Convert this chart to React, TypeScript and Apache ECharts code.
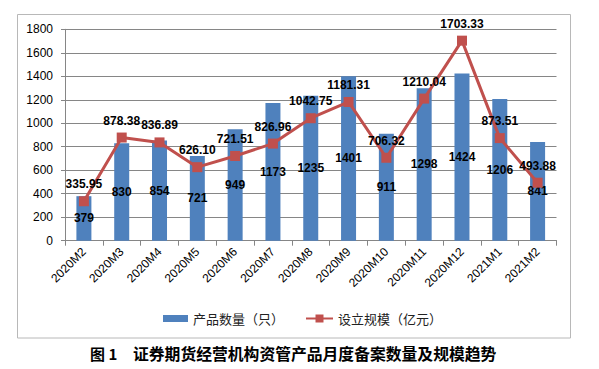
import React, { useEffect, useRef } from "react";
import * as echarts from "echarts";

const categories = [
  "2020M2", "2020M3", "2020M4", "2020M5", "2020M6", "2020M7", "2020M8",
  "2020M9", "2020M10", "2020M11", "2020M12", "2021M1", "2021M2",
];
const productCounts = [379, 830, 854, 721, 949, 1173, 1235, 1401, 911, 1298, 1424, 1206, 841];
const scaleValues = [335.95, 878.38, 836.89, 626.1, 721.51, 826.96, 1042.75, 1181.31, 706.32, 1210.04, 1703.33, 873.51, 493.88];
const barName = "产品数量（只）";
const lineName = "设立规模（亿元）";
const figureNo = "图 1";
const figureTitle = "证券期货经营机构资管产品月度备案数量及规模趋势";

export default function App() {
  const ref = useRef<HTMLDivElement>(null);
  useEffect(() => {
    if (!ref.current) return;
    const chart = echarts.init(ref.current, null, { renderer: "svg" });
    const font = "'Liberation Sans', Arial, sans-serif";
    const cjk = "'Noto Sans CJK SC', sans-serif";
    chart.setOption({
      animation: false,
      backgroundColor: "#ffffff",
      grid: { left: 65, right: 42.5, top: 29.3, bottom: 128.3, containLabel: false },
      xAxis: {
        type: "category",
        data: categories,
        boundaryGap: true,
        axisLine: { show: true, lineStyle: { color: "#868686", width: 1 } },
        axisTick: { show: true, alignWithLabel: false, length: 5, lineStyle: { color: "#868686" } },
        axisLabel: {
          interval: 0,
          rotate: 45,
          margin: 9,
          fontSize: 12,
          color: "#000",
          fontFamily: font,
        },
      },
      yAxis: {
        type: "value",
        min: 0,
        max: 1800,
        interval: 200,
        axisLine: { show: true, lineStyle: { color: "#868686", width: 1 } },
        axisTick: { show: true, length: 4, lineStyle: { color: "#868686" } },
        splitLine: { show: true, lineStyle: { color: "#868686", width: 1 } },
        axisLabel: {
          margin: 12,
          fontSize: 12,
          color: "#000",
          fontFamily: font,
          formatter: (v: number) => String(v),
        },
      },
      legend: [
        {
          data: [{ name: barName, icon: "rect" }],
          left: 158,
          top: 307,
          itemWidth: 25,
          itemHeight: 7,
          textStyle: { fontSize: 13, color: "#222", fontFamily: cjk },
        },
        {
          data: [{ name: lineName }],
          left: 300,
          top: 307,
          itemWidth: 27,
          itemHeight: 10,
          textStyle: { fontSize: 13, color: "#222", fontFamily: cjk },
        },
      ],
      series: [
        {
          name: barName,
          type: "bar",
          data: productCounts,
          barWidth: 15,
          itemStyle: { color: "#4F81BD" },
          label: {
            show: true,
            position: "inside",
            fontSize: 12,
            fontWeight: "bold",
            color: "#000",
            fontFamily: font,
          },
          z: 2,
        },
        {
          name: lineName,
          type: "line",
          data: scaleValues,
          symbol: "rect",
          symbolSize: 10,
          lineStyle: { color: "#C0504D", width: 3 },
          itemStyle: { color: "#C0504D" },
          label: {
            show: true,
            position: "top",
            distance: 6,
            fontSize: 12,
            fontWeight: "bold",
            color: "#000",
            fontFamily: font,
            formatter: (p: any) => Number(p.value).toFixed(2),
          },
          z: 3,
        },
      ],
      graphic: [
        {
          type: "rect",
          shape: { x: 17.5, y: 14.5, width: 553, height: 323.5 },
          style: { fill: "none", stroke: "#b8b8b8", lineWidth: 1 },
          silent: true,
        },
        {
          type: "text",
          x: 90,
          y: 353,
          style: {
            text: figureNo,
            fontSize: 15,
            fontWeight: "bold",
            fill: "#000",
            fontFamily: cjk,
            verticalAlign: "middle",
          },
        },
        {
          type: "text",
          x: 133,
          y: 353,
          style: {
            text: figureTitle,
            fontSize: 15.8,
            fontWeight: "bold",
            fill: "#000",
            fontFamily: cjk,
            verticalAlign: "middle",
          },
        },
      ],
    });
    return () => chart.dispose();
  }, []);
  return (
    <div
      ref={ref}
      style={{ position: "fixed", left: 0, top: 0, width: 599, height: 369 }}
    />
  );
}
